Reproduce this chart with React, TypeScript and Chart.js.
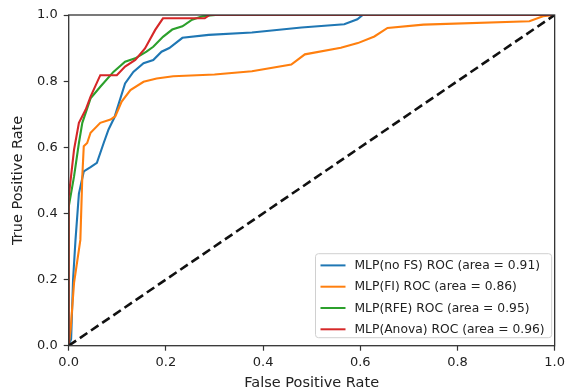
import React, { useEffect, useRef } from "react";
import { Chart, registerables } from "chart.js";

Chart.register(...registerables);

const FONT = "'DejaVu Sans', 'Liberation Sans', sans-serif";

const axisTicks = [0, 0.2, 0.4, 0.6, 0.8, 1.0];

const seriesLabels = [
  "MLP(no FS) ROC (area = 0.91)",
  "MLP(FI) ROC (area = 0.86)",
  "MLP(RFE) ROC (area = 0.95)",
  "MLP(Anova) ROC (area = 0.96)",
];
const seriesColors = ["#1f77b4", "#ff7f0e", "#2ca02c", "#d62728"];

const noFsFpr = [0, 0.005, 0.009, 0.014, 0.021, 0.031, 0.045, 0.058, 0.072, 0.082, 0.094, 0.103, 0.116, 0.133, 0.154, 0.174, 0.191, 0.207, 0.234, 0.288, 0.377, 0.479, 0.567, 0.594, 0.605, 1.0];
const noFsTpr = [0, 0.02, 0.2, 0.32, 0.46, 0.527, 0.54, 0.553, 0.613, 0.654, 0.69, 0.732, 0.793, 0.828, 0.854, 0.864, 0.889, 0.9, 0.931, 0.94, 0.947, 0.962, 0.972, 0.987, 1.0, 1.0];

const fiFpr = [0, 0.004, 0.011, 0.024, 0.028, 0.031, 0.038, 0.045, 0.065, 0.086, 0.096, 0.109, 0.127, 0.154, 0.181, 0.215, 0.3, 0.377, 0.458, 0.486, 0.56, 0.595, 0.629, 0.656, 0.73, 0.948, 0.976, 1.0];
const fiTpr = [0, 0.05, 0.19, 0.32, 0.512, 0.603, 0.613, 0.644, 0.674, 0.684, 0.694, 0.738, 0.773, 0.798, 0.808, 0.815, 0.82, 0.83, 0.85, 0.881, 0.901, 0.915, 0.935, 0.961, 0.971, 0.981, 0.996, 1.0];

const rfeFpr = [0, 0, 0.011, 0.021, 0.028, 0.045, 0.065, 0.092, 0.116, 0.137, 0.16, 0.174, 0.194, 0.213, 0.234, 0.254, 0.275, 0.302, 1.0];
const rfeTpr = [0, 0.42, 0.512, 0.613, 0.674, 0.748, 0.783, 0.828, 0.859, 0.869, 0.889, 0.904, 0.934, 0.956, 0.966, 0.986, 0.996, 1.0, 1.0];

const anovaFpr = [0, 0, 0.011, 0.021, 0.035, 0.045, 0.065, 0.099, 0.116, 0.137, 0.157, 0.178, 0.194, 0.28, 0.29, 1.0];
const anovaTpr = [0, 0.45, 0.593, 0.674, 0.714, 0.753, 0.818, 0.818, 0.844, 0.864, 0.899, 0.955, 0.99, 0.99, 1.0, 1.0];

const chanceFpr = [0, 1];
const chanceTpr = [0, 1];

const seriesFpr = [noFsFpr, fiFpr, rfeFpr, anovaFpr];
const seriesTpr = [noFsTpr, fiTpr, rfeTpr, anovaTpr];

const toPoints = (xs: number[], ys: number[]) => xs.map((x, i) => ({ x, y: ys[i] }));

const frameAndLegend = {
  id: "frameAndLegend",
  afterDraw(chart: any) {
    const { ctx, chartArea: a } = chart;
    ctx.save();
    // spines
    ctx.strokeStyle = "#333";
    ctx.lineWidth = 1.3;
    ctx.strokeRect(a.left, a.top, a.right - a.left, a.bottom - a.top);

    // legend
    ctx.font = `12.3px ${FONT}`;
    let maxW = 0;
    seriesLabels.forEach((t) => {
      maxW = Math.max(maxW, ctx.measureText(t).width);
    });
    const boxW = 5 + 25 + 9 + maxW + 7;
    const boxH = 84;
    const right = a.right - 3;
    const bottom = a.bottom - 8;
    const left = right - boxW;
    const top = bottom - boxH;
    ctx.beginPath();
    ctx.roundRect(left, top, boxW, boxH, 3);
    ctx.fillStyle = "rgba(255,255,255,0.85)";
    ctx.fill();
    ctx.strokeStyle = "#d0d0d0";
    ctx.lineWidth = 1;
    ctx.stroke();
    seriesLabels.forEach((t, i) => {
      const y = top + 11.7 + i * 21.3;
      ctx.beginPath();
      ctx.strokeStyle = seriesColors[i];
      ctx.lineWidth = 2;
      ctx.moveTo(left + 5, y);
      ctx.lineTo(left + 30, y);
      ctx.stroke();
      ctx.fillStyle = "#222";
      ctx.textAlign = "left";
      ctx.textBaseline = "middle";
      ctx.fillText(t, left + 39, y + 0.5);
    });
    ctx.restore();
  },
};

export default function App() {
  const ref = useRef<HTMLCanvasElement | null>(null);
  useEffect(() => {
    if (!ref.current) return;
    const datasets: any[] = seriesLabels.map((label, i) => ({
      label,
      data: toPoints(seriesFpr[i], seriesTpr[i]),
      borderColor: seriesColors[i],
      backgroundColor: seriesColors[i],
      borderWidth: 2.1,
      pointRadius: 0,
      tension: 0,
      fill: false,
      order: 4 - i,
    }));
    datasets.push({
      label: "chance",
      data: toPoints(chanceFpr, chanceTpr),
      borderColor: "#111",
      borderWidth: 2.6,
      borderDash: [9, 4.5],
      pointRadius: 0,
      fill: false,
      order: 0,
    });
    const tickFont = { family: FONT, size: 13 };
    const titleFont = { family: FONT, size: 14.5 };
    const chart = new Chart(ref.current, {
      type: "line",
      data: { datasets },
      plugins: [frameAndLegend],
      options: {
        animation: false,
        responsive: false,
        layout: { padding: { left: 0, right: 10, top: 15, bottom: 0 } },
        plugins: { legend: { display: false }, tooltip: { enabled: false } },
        scales: {
          x: {
            type: "linear",
            min: 0,
            max: 1,
            afterBuildTicks: (s: any) => {
              s.ticks = axisTicks.map((v) => ({ value: v }));
            },
            afterFit: (s: any) => {
              s.height = 46.3;
            },
            ticks: {
              color: "#222",
              font: tickFont,
              padding: 4,
              maxRotation: 0,
              callback: (v: any) => Number(v).toFixed(1),
            },
            grid: { drawOnChartArea: false, drawTicks: true, tickLength: 5, tickColor: "#333", tickWidth: 1.2 },
            border: { display: false },
            title: { display: true, text: "False Positive Rate", color: "#222", font: titleFont, padding: { top: 0, bottom: 0 } },
          },
          y: {
            type: "linear",
            min: 0,
            max: 1,
            afterBuildTicks: (s: any) => {
              s.ticks = axisTicks.map((v) => ({ value: v }));
            },
            afterFit: (s: any) => {
              s.width = 68.7;
            },
            ticks: {
              color: "#222",
              font: tickFont,
              padding: 6,
              callback: (v: any) => Number(v).toFixed(1),
            },
            grid: { drawOnChartArea: false, drawTicks: true, tickLength: 5, tickColor: "#333", tickWidth: 1.2 },
            border: { display: false },
            title: { display: true, text: "True Positive Rate", color: "#222", font: titleFont, padding: { top: 10, bottom: 0 } },
          },
        },
      } as any,
    });
    return () => chart.destroy();
  }, []);
  return (
    <div style={{ position: "fixed", left: 0, top: 0, width: 569, height: 392, background: "#fff" }}>
      <canvas ref={ref} width={569} height={392} style={{ display: "block" }} />
    </div>
  );
}
